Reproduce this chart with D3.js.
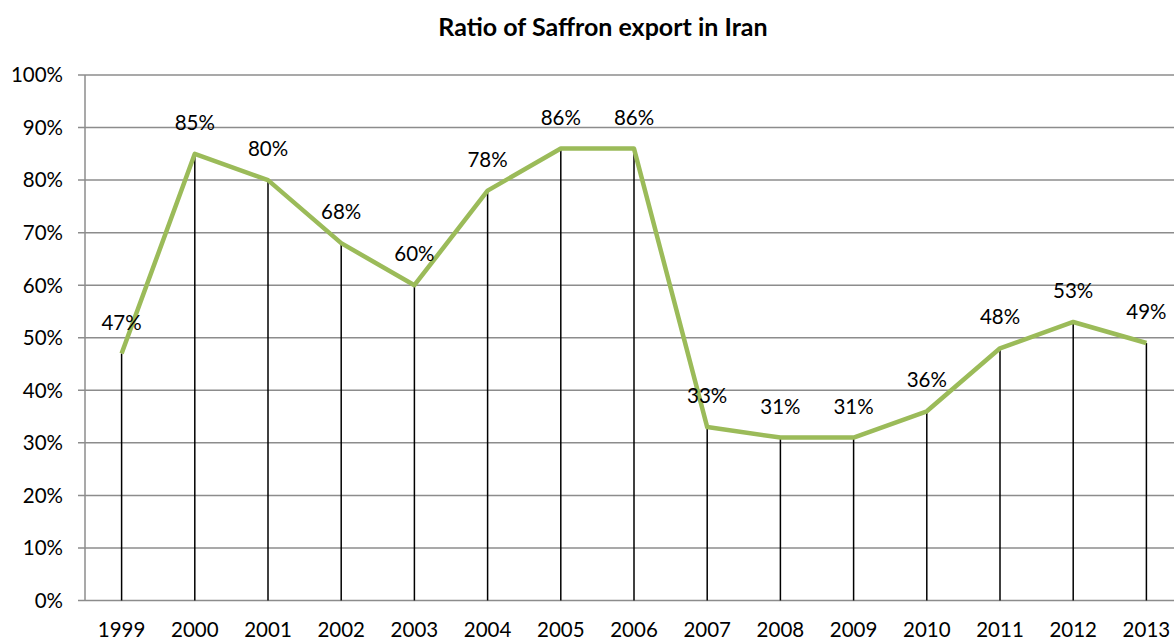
<!DOCTYPE html>
<html>
<head>
<meta charset="utf-8">
<script src="https://cdn.jsdelivr.net/npm/d3@7"></script>
<style>
  html, body { margin: 0; padding: 0; background: #fff; }
  svg { display: block; font-family: Lato, "Open Sans", sans-serif; }
</style>
</head>
<body>
<svg id="chart" width="1174" height="642"></svg>
<script>
const years = ["1999","2000","2001","2002","2003","2004","2005","2006","2007","2008","2009","2010","2011","2012","2013"];
const ratios = [47, 85, 80, 68, 60, 78, 86, 86, 33, 31, 31, 36, 48, 53, 49];
const yTicks = [0, 10, 20, 30, 40, 50, 60, 70, 80, 90, 100];
const title = "Ratio of Saffron export in Iran";

const svg = d3.select("#chart");
const plotLeft = 85, plotRight = 1183, plotTop = 75, plotBottom = 600.5;

const x = d3.scaleBand().domain(years).range([plotLeft, plotRight]);
const y = d3.scaleLinear().domain([0, 100]).range([plotBottom, plotTop]);
const cx = d => x(d) + x.bandwidth() / 2;

svg.append("text")
  .attr("x", 603).attr("y", 36)
  .attr("text-anchor", "middle")
  .attr("font-size", 25).attr("font-weight", "bold")
  .text(title);

// horizontal gridlines
svg.append("g").selectAll("line").data(yTicks).join("line")
  .attr("x1", plotLeft - 7).attr("x2", 1174)
  .attr("y1", d => y(d)).attr("y2", d => y(d))
  .attr("stroke", "#8c8c8c").attr("stroke-width", 1.5);

// y axis line
svg.append("line")
  .attr("x1", plotLeft).attr("x2", plotLeft).attr("y1", plotTop).attr("y2", plotBottom)
  .attr("stroke", "#8c8c8c").attr("stroke-width", 1.5);

// y tick labels
svg.append("g").selectAll("text").data(yTicks).join("text")
  .attr("x", 63).attr("y", d => y(d))
  .attr("dy", "0.36em")
  .attr("text-anchor", "end")
  .attr("font-size", 20.5)
  .text(d => d + "%");

// x labels
svg.append("g").selectAll("text").data(years).join("text")
  .attr("x", d => cx(d)).attr("y", 637)
  .attr("text-anchor", "middle")
  .attr("font-size", 20.5)
  .text(d => d);

// drop lines
svg.append("g").selectAll("line").data(years).join("line")
  .attr("x1", d => cx(d)).attr("x2", d => cx(d))
  .attr("y1", (d, i) => y(ratios[i])).attr("y2", plotBottom)
  .attr("stroke", "#000").attr("stroke-width", 1.5);

// series line
const line = d3.line().x((d, i) => cx(years[i])).y(d => y(d));
svg.append("path")
  .datum(ratios)
  .attr("d", line)
  .attr("fill", "none")
  .attr("stroke", "#9bbb59").attr("stroke-width", 4.5)
  .attr("stroke-linejoin", "round");

// data labels
svg.append("g").selectAll("text").data(ratios).join("text")
  .attr("x", (d, i) => cx(years[i])).attr("y", d => y(d) - 24)
  .attr("text-anchor", "middle")
  .attr("font-size", 20.5)
  .text(d => d + "%");
</script>
</body>
</html>
